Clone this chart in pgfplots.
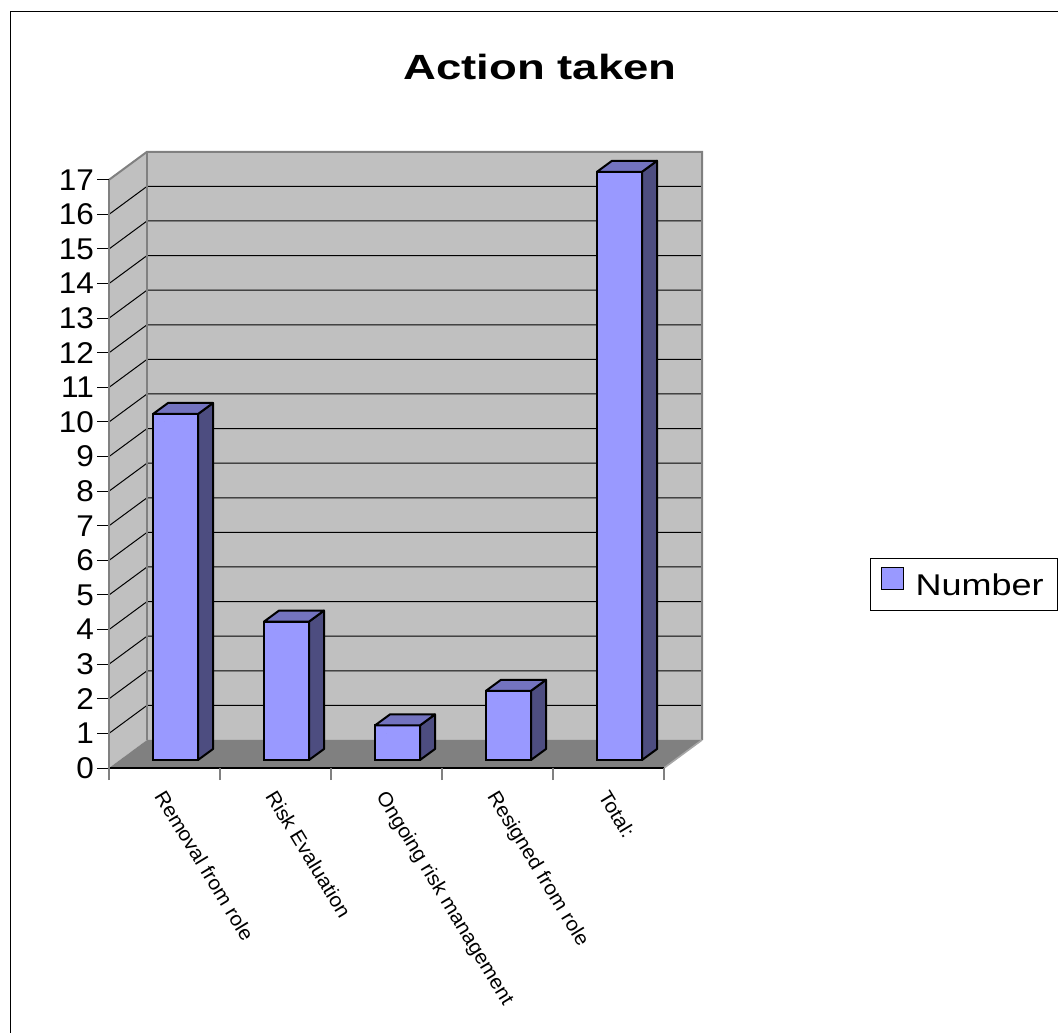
\documentclass[border=0pt]{standalone}
\usepackage{pgfplots}
\pgfplotsset{compat=1.18}
\usepackage{pgfplotstable}
\usepackage{fontspec}
\setmainfont{Liberation Sans}[FakeStretch=1.2]
\newfontfamily\titlefont{Liberation Sans}[FakeStretch=1.3]
\newfontfamily\tickfont{Liberation Sans}[FakeStretch=1.05]
\newfontfamily\catfont{Liberation Sans}[FakeStretch=1.05]

\definecolor{barfront}{RGB}{153,153,255}
\definecolor{bartop}{RGB}{115,115,191}
\definecolor{barside}{RGB}{77,77,128}
\definecolor{wallgray}{RGB}{192,192,192}
\definecolor{floorgray}{RGB}{128,128,128}
\definecolor{wallline}{RGB}{128,128,128}

% counts per action
\pgfplotstableread{
x v
0 10
1 4
2 1
3 2
4 17
}\actiondata

% reference pixel -> pt (1 px = 0.5pt, y measured from top)
\newcommand{\px}[2]{({(#1)*0.5pt},{(1032-(#2))*0.5pt})}

\begin{document}
\begin{tikzpicture}
\useasboundingbox (0,0) rectangle (529pt,516pt);
\clip (0,0) rectangle (529pt,516pt);
\draw[line width=0.9pt] \px{10.5}{1045} -- \px{10.5}{11.5} -- \px{1070}{11.5};
\node[anchor=base, font=\fontsize{17.5}{20}\titlefont\bfseries] at \px{540}{80} {Action taken};

\begin{axis}[
  at={(82.25pt,132pt)}, anchor=origin,
  x=55.5pt, y=17.3pt,
  xmin=-0.5, xmax=4.5, ymin=0, ymax=17,
  clip=false, axis on top,
  axis x line*=bottom, axis y line*=left,
  x axis line style={black, line width=0.8pt},
  y axis line style={wallline, line width=0.8pt},
  tick align=outside, major tick length=6pt,
  ytick={0,...,17},
  ytick style={black, line width=0.5pt},
  yticklabel style={font=\fontsize{15}{15}\tickfont, xshift=2pt},
  /pgf/number format/assume math mode=true,
  xtick={0,...,4},
  xticklabels={Removal from role, Risk Evaluation, Ongoing risk management, Resigned from role, Total:},
  xtick style={draw=none},
  xticklabel style={xshift=1pt, yshift=-4pt, rotate=-58.8, anchor=north west,
    font=\fontsize{10}{11}\catfont, inner sep=0pt},
  extra x ticks={-0.5,0.5,1.5,2.5,3.5,4.5},
  extra x tick labels={},
  extra x tick style={xtick style={draw=wallline, line width=0.8pt}},
  legend style={at={(1.371,0.357)}, anchor=north west, draw=black, line width=0.6pt,
    font=\fontsize{15}{15}\selectfont, inner xsep=5pt, inner ysep=4pt, column sep=4pt},
]
% walls and floor
\fill[wallgray] (axis cs:-0.5,0) -- ++(19pt,14pt) -- ++(0pt,294.1pt) -- (axis cs:-0.5,17) -- cycle;
\begin{scope}[shift={(19pt,14pt)}]
  \fill[wallgray] (axis cs:-0.5,0) rectangle (axis cs:4.5,17);
\end{scope}
\fill[floorgray] (axis cs:-0.5,0) -- (axis cs:4.5,0) -- ++(19pt,14pt) -- ++(-277.5pt,0pt) -- cycle;
\pgfplotsinvokeforeach{1,...,16}{
  \draw[black, line width=0.5pt] (axis cs:-0.5,#1) -- ++(19pt,14pt) -- ++(277.5pt,0pt);
}
\draw[wallline, line width=1pt] (axis cs:-0.5,17) -- ++(19pt,14pt) -- ++(277.5pt,0pt) -- ++(0pt,-294.1pt);
\draw[wallline, line width=1pt] (axis cs:-0.5,0) ++(19pt,14pt) -- ++(0pt,294.1pt);
\draw[wallline!70!white, line width=0.8pt] (axis cs:4.5,0) -- ++(19pt,14pt);

\addplot[ybar, bar width=22.5pt, bar shift=5.5pt, yshift=4pt, fill=barfront, draw=black, line width=1pt,
  legend image code/.code={\draw[fill=barfront, draw=black, line width=0.6pt] (0pt,-5.5pt) rectangle (11pt,5.5pt);}]
  table[x=x, y=v] {\actiondata};
\addlegendentry{Number}

% side and top faces of the bars
\addplot[scatter, only marks, mark=*, mark size=0pt, forget plot,
  mark options={draw=none, fill=none},
  visualization depends on={\thisrow{v} \as \val},
  scatter/@pre marker code/.code={
    \pgfmathsetmacro\h{\val*17.3}
    \filldraw[fill=barside, draw=black, line width=1pt, line join=round]
      (16.75pt,4pt) -- (24.25pt,9.5pt) -- (24.25pt,9.5pt-\h pt) -- (16.75pt,4pt-\h pt) -- cycle;
    \filldraw[fill=bartop, draw=black, line width=1pt, line join=round]
      (-5.75pt,4pt) -- (16.75pt,4pt) -- (24.25pt,9.5pt) -- (1.75pt,9.5pt) -- cycle;
  },
  scatter/@post marker code/.code={}]
  table[x=x, y=v] {\actiondata};
\end{axis}
\end{tikzpicture}
\end{document}
